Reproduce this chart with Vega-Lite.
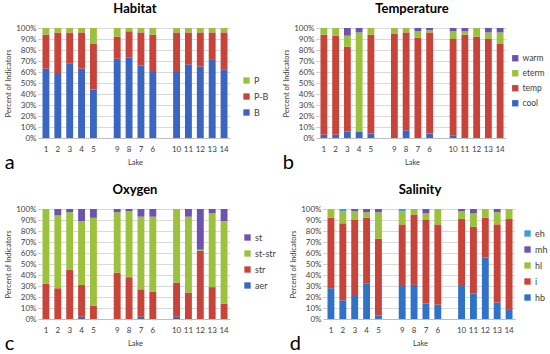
{
  "$schema": "https://vega.github.io/schema/vega-lite/v6.json",
  "background": "white",
  "padding": {"left": 4, "top": 3, "right": 0, "bottom": 0},
  "resolve": {"scale": {"color": "independent"}, "legend": {"color": "independent"}},
  "config": {
    "font": "Lato",
    "view": {"stroke": null},
    "axis": {"labelFont": "Lato", "labelFontSize": 8, "labelColor": "#404040", "titleFont": "Lato", "titleFontSize": 7.5, "titleFontWeight": "normal", "titleColor": "#404040", "gridColor": "#d9d9d9", "domainColor": "#bfbfbf", "tickColor": "#bfbfbf"},
    "axisX": {"labelAngle": 0, "ticks": false, "grid": false, "labelPadding": 7, "titlePadding": 5},
    "axisY": {"domain": false, "tickSize": 2, "labelPadding": 2, "titlePadding": 3},
    "legend": {"labelFont": "Lato", "labelFontSize": 9, "labelColor": "#404040", "symbolType": "square", "symbolSize": 40, "symbolStrokeWidth": 0, "rowPadding": 6, "labelOffset": 3, "orient": "none"},
    "title": {"font": "Lato", "fontSize": 13, "fontWeight": "bold", "color": "#000000"}
  },
  "datasets": {
    "series": [
      {"cat": "B", "r": 1}, {"cat": "P-B", "r": 2}, {"cat": "P", "r": 3},
      {"cat": "cool", "r": 1}, {"cat": "temp", "r": 2}, {"cat": "eterm", "r": 3}, {"cat": "warm", "r": 4},
      {"cat": "aer", "r": 1}, {"cat": "str", "r": 2}, {"cat": "st-str", "r": 3}, {"cat": "st", "r": 4},
      {"cat": "hb", "r": 1}, {"cat": "i", "r": 2}, {"cat": "hl", "r": 3}, {"cat": "mh", "r": 4}, {"cat": "eh", "r": 5}
    ],
    "habitat": [
      {"lake": "1", "cat": "B", "v": 63}, {"lake": "1", "cat": "P-B", "v": 31}, {"lake": "1", "cat": "P", "v": 6},
      {"lake": "2", "cat": "B", "v": 59}, {"lake": "2", "cat": "P-B", "v": 37}, {"lake": "2", "cat": "P", "v": 4},
      {"lake": "3", "cat": "B", "v": 68}, {"lake": "3", "cat": "P-B", "v": 28}, {"lake": "3", "cat": "P", "v": 4},
      {"lake": "4", "cat": "B", "v": 63}, {"lake": "4", "cat": "P-B", "v": 33}, {"lake": "4", "cat": "P", "v": 4},
      {"lake": "5", "cat": "B", "v": 44}, {"lake": "5", "cat": "P-B", "v": 42}, {"lake": "5", "cat": "P", "v": 14},
      {"lake": "9", "cat": "B", "v": 72}, {"lake": "9", "cat": "P-B", "v": 20}, {"lake": "9", "cat": "P", "v": 8},
      {"lake": "8", "cat": "B", "v": 73}, {"lake": "8", "cat": "P-B", "v": 24}, {"lake": "8", "cat": "P", "v": 3},
      {"lake": "7", "cat": "B", "v": 66}, {"lake": "7", "cat": "P-B", "v": 30}, {"lake": "7", "cat": "P", "v": 4},
      {"lake": "6", "cat": "B", "v": 60}, {"lake": "6", "cat": "P-B", "v": 34}, {"lake": "6", "cat": "P", "v": 6},
      {"lake": "10", "cat": "B", "v": 60}, {"lake": "10", "cat": "P-B", "v": 36}, {"lake": "10", "cat": "P", "v": 4},
      {"lake": "11", "cat": "B", "v": 67}, {"lake": "11", "cat": "P-B", "v": 29}, {"lake": "11", "cat": "P", "v": 4},
      {"lake": "12", "cat": "B", "v": 65}, {"lake": "12", "cat": "P-B", "v": 31}, {"lake": "12", "cat": "P", "v": 4},
      {"lake": "13", "cat": "B", "v": 71}, {"lake": "13", "cat": "P-B", "v": 25}, {"lake": "13", "cat": "P", "v": 4},
      {"lake": "14", "cat": "B", "v": 62}, {"lake": "14", "cat": "P-B", "v": 34}, {"lake": "14", "cat": "P", "v": 4}
    ],
    "temperature": [
      {"lake": "1", "cat": "cool", "v": 3}, {"lake": "1", "cat": "temp", "v": 91}, {"lake": "1", "cat": "eterm", "v": 6},
      {"lake": "2", "cat": "cool", "v": 3}, {"lake": "2", "cat": "temp", "v": 90}, {"lake": "2", "cat": "eterm", "v": 7},
      {"lake": "3", "cat": "cool", "v": 6}, {"lake": "3", "cat": "temp", "v": 77}, {"lake": "3", "cat": "eterm", "v": 10}, {"lake": "3", "cat": "warm", "v": 7},
      {"lake": "4", "cat": "cool", "v": 6}, {"lake": "4", "cat": "eterm", "v": 90}, {"lake": "4", "cat": "warm", "v": 4},
      {"lake": "5", "cat": "cool", "v": 4}, {"lake": "5", "cat": "temp", "v": 90}, {"lake": "5", "cat": "eterm", "v": 6},
      {"lake": "9", "cat": "temp", "v": 95}, {"lake": "9", "cat": "eterm", "v": 5},
      {"lake": "8", "cat": "cool", "v": 7}, {"lake": "8", "cat": "temp", "v": 89}, {"lake": "8", "cat": "eterm", "v": 4},
      {"lake": "7", "cat": "temp", "v": 91}, {"lake": "7", "cat": "eterm", "v": 6}, {"lake": "7", "cat": "warm", "v": 3},
      {"lake": "6", "cat": "cool", "v": 4}, {"lake": "6", "cat": "temp", "v": 92}, {"lake": "6", "cat": "eterm", "v": 2}, {"lake": "6", "cat": "warm", "v": 2},
      {"lake": "10", "cat": "cool", "v": 2}, {"lake": "10", "cat": "temp", "v": 88}, {"lake": "10", "cat": "eterm", "v": 7}, {"lake": "10", "cat": "warm", "v": 3},
      {"lake": "11", "cat": "temp", "v": 94}, {"lake": "11", "cat": "eterm", "v": 3}, {"lake": "11", "cat": "warm", "v": 3},
      {"lake": "12", "cat": "temp", "v": 92}, {"lake": "12", "cat": "eterm", "v": 8},
      {"lake": "13", "cat": "temp", "v": 90}, {"lake": "13", "cat": "eterm", "v": 6}, {"lake": "13", "cat": "warm", "v": 4},
      {"lake": "14", "cat": "temp", "v": 86}, {"lake": "14", "cat": "eterm", "v": 10}, {"lake": "14", "cat": "warm", "v": 4}
    ],
    "oxygen": [
      {"lake": "1", "cat": "str", "v": 32}, {"lake": "1", "cat": "st-str", "v": 68},
      {"lake": "2", "cat": "str", "v": 28}, {"lake": "2", "cat": "st-str", "v": 66}, {"lake": "2", "cat": "st", "v": 6},
      {"lake": "3", "cat": "str", "v": 45}, {"lake": "3", "cat": "st-str", "v": 52}, {"lake": "3", "cat": "st", "v": 3},
      {"lake": "4", "cat": "aer", "v": 2}, {"lake": "4", "cat": "str", "v": 29}, {"lake": "4", "cat": "st-str", "v": 58}, {"lake": "4", "cat": "st", "v": 11},
      {"lake": "5", "cat": "str", "v": 12}, {"lake": "5", "cat": "st-str", "v": 80}, {"lake": "5", "cat": "st", "v": 8},
      {"lake": "9", "cat": "str", "v": 42}, {"lake": "9", "cat": "st-str", "v": 55}, {"lake": "9", "cat": "st", "v": 3},
      {"lake": "8", "cat": "str", "v": 38}, {"lake": "8", "cat": "st-str", "v": 60}, {"lake": "8", "cat": "st", "v": 2},
      {"lake": "7", "cat": "aer", "v": 2}, {"lake": "7", "cat": "str", "v": 25}, {"lake": "7", "cat": "st-str", "v": 66}, {"lake": "7", "cat": "st", "v": 7},
      {"lake": "6", "cat": "str", "v": 25}, {"lake": "6", "cat": "st-str", "v": 68}, {"lake": "6", "cat": "st", "v": 7},
      {"lake": "10", "cat": "aer", "v": 2}, {"lake": "10", "cat": "str", "v": 31}, {"lake": "10", "cat": "st-str", "v": 67},
      {"lake": "11", "cat": "str", "v": 24}, {"lake": "11", "cat": "st-str", "v": 69}, {"lake": "11", "cat": "st", "v": 7},
      {"lake": "12", "cat": "str", "v": 62}, {"lake": "12", "cat": "st-str", "v": 1}, {"lake": "12", "cat": "st", "v": 37},
      {"lake": "13", "cat": "str", "v": 29}, {"lake": "13", "cat": "st-str", "v": 67}, {"lake": "13", "cat": "st", "v": 4},
      {"lake": "14", "cat": "str", "v": 14}, {"lake": "14", "cat": "st-str", "v": 75}, {"lake": "14", "cat": "st", "v": 11}
    ],
    "salinity": [
      {"lake": "1", "cat": "hb", "v": 28}, {"lake": "1", "cat": "i", "v": 64}, {"lake": "1", "cat": "hl", "v": 8},
      {"lake": "2", "cat": "hb", "v": 17}, {"lake": "2", "cat": "i", "v": 70}, {"lake": "2", "cat": "hl", "v": 11}, {"lake": "2", "cat": "eh", "v": 2},
      {"lake": "3", "cat": "hb", "v": 21}, {"lake": "3", "cat": "i", "v": 69}, {"lake": "3", "cat": "hl", "v": 8}, {"lake": "3", "cat": "mh", "v": 2},
      {"lake": "4", "cat": "hb", "v": 32}, {"lake": "4", "cat": "i", "v": 60}, {"lake": "4", "cat": "hl", "v": 5}, {"lake": "4", "cat": "mh", "v": 3},
      {"lake": "5", "cat": "hb", "v": 3}, {"lake": "5", "cat": "i", "v": 70}, {"lake": "5", "cat": "hl", "v": 24}, {"lake": "5", "cat": "mh", "v": 3},
      {"lake": "9", "cat": "hb", "v": 30}, {"lake": "9", "cat": "i", "v": 56}, {"lake": "9", "cat": "hl", "v": 12}, {"lake": "9", "cat": "eh", "v": 2},
      {"lake": "8", "cat": "hb", "v": 31}, {"lake": "8", "cat": "i", "v": 64}, {"lake": "8", "cat": "hl", "v": 5},
      {"lake": "7", "cat": "hb", "v": 14}, {"lake": "7", "cat": "i", "v": 76}, {"lake": "7", "cat": "hl", "v": 6}, {"lake": "7", "cat": "mh", "v": 4},
      {"lake": "6", "cat": "hb", "v": 13}, {"lake": "6", "cat": "i", "v": 73}, {"lake": "6", "cat": "hl", "v": 14},
      {"lake": "10", "cat": "hb", "v": 30}, {"lake": "10", "cat": "i", "v": 61}, {"lake": "10", "cat": "hl", "v": 7}, {"lake": "10", "cat": "mh", "v": 2},
      {"lake": "11", "cat": "hb", "v": 23}, {"lake": "11", "cat": "i", "v": 61}, {"lake": "11", "cat": "hl", "v": 12}, {"lake": "11", "cat": "mh", "v": 4},
      {"lake": "12", "cat": "hb", "v": 56}, {"lake": "12", "cat": "i", "v": 36}, {"lake": "12", "cat": "hl", "v": 8},
      {"lake": "13", "cat": "hb", "v": 15}, {"lake": "13", "cat": "i", "v": 71}, {"lake": "13", "cat": "hl", "v": 11}, {"lake": "13", "cat": "mh", "v": 3},
      {"lake": "14", "cat": "hb", "v": 9}, {"lake": "14", "cat": "i", "v": 82}, {"lake": "14", "cat": "hl", "v": 9}
    ]
  },
  "vconcat": [
    {
      "resolve": {"scale": {"color": "independent"}, "legend": {"color": "independent"}},
      "hconcat": [
        {
          "title": {"text": "a", "orient": "bottom", "anchor": "start", "fontSize": 20, "fontWeight": "normal", "offset": -13, "frame": "bounds"},
          "vconcat": [
            {
              "title": {"text": "Habitat", "offset": 8},
              "width": 190, "height": 110,
              "data": {"name": "habitat"},
              "transform": [{"lookup": "cat", "from": {"data": {"name": "series"}, "key": "cat", "fields": ["r"]}}],
              "mark": {"type": "bar"},
              "encoding": {
                "x": {"field": "lake", "type": "nominal", "scale": {"domain": ["1","2","3","4","5"," ","9","8","7","6","  ","10","11","12","13","14"], "paddingInner": 0.42, "paddingOuter": 0.21}, "axis": {"title": "Lake"}},
                "y": {"field": "v", "type": "quantitative", "stack": "normalize", "scale": {"domain": [0, 1]}, "axis": {"title": "Percent of Indicators", "values": [0,0.1,0.2,0.3,0.4,0.5,0.6,0.7,0.8,0.9,1], "format": ".0%"}},
                "order": {"field": "r", "type": "quantitative", "sort": "ascending"},
                "color": {"field": "cat", "type": "nominal", "scale": {"domain": ["P","P-B","B"], "range": ["#9cc13c","#c8443b","#3a66c2"]}, "legend": {"title": null, "values": ["P","P-B","B"], "legendX": 202, "legendY": 48}}
              }
            }
          ]
        },
        {
          "title": {"text": "b", "orient": "bottom", "anchor": "start", "fontSize": 20, "fontWeight": "normal", "offset": -13, "frame": "bounds"},
          "vconcat": [
            {
              "title": {"text": "Temperature", "offset": 8},
              "width": 188, "height": 110,
              "data": {"name": "temperature"},
              "transform": [{"lookup": "cat", "from": {"data": {"name": "series"}, "key": "cat", "fields": ["r"]}}],
              "mark": {"type": "bar"},
              "encoding": {
                "x": {"field": "lake", "type": "nominal", "scale": {"domain": ["1","2","3","4","5"," ","9","8","7","6","  ","10","11","12","13","14"], "paddingInner": 0.42, "paddingOuter": 0.21}, "axis": {"title": "Lake"}},
                "y": {"field": "v", "type": "quantitative", "stack": "normalize", "scale": {"domain": [0, 1]}, "axis": {"title": "Percent of Indicators", "values": [0,0.1,0.2,0.3,0.4,0.5,0.6,0.7,0.8,0.9,1], "format": ".0%"}},
                "order": {"field": "r", "type": "quantitative", "sort": "ascending"},
                "color": {"field": "cat", "type": "nominal", "scale": {"domain": ["warm","eterm","temp","cool"], "range": ["#6d52b0","#9cc13c","#c8443b","#3a66c2"]}, "legend": {"title": null, "values": ["warm","eterm","temp","cool"], "legendX": 193, "legendY": 26, "labelFontSize": 8.5}}
              }
            }
          ]
        }
      ],
      "spacing": 13
    },
    {
      "resolve": {"scale": {"color": "independent"}, "legend": {"color": "independent"}},
      "hconcat": [
        {
          "title": {"text": "c", "orient": "bottom", "anchor": "start", "fontSize": 20, "fontWeight": "normal", "offset": -13, "frame": "bounds"},
          "vconcat": [
            {
              "title": {"text": "Oxygen", "offset": 8},
              "width": 190, "height": 110,
              "data": {"name": "oxygen"},
              "transform": [{"lookup": "cat", "from": {"data": {"name": "series"}, "key": "cat", "fields": ["r"]}}],
              "mark": {"type": "bar"},
              "encoding": {
                "x": {"field": "lake", "type": "nominal", "scale": {"domain": ["1","2","3","4","5"," ","9","8","7","6","  ","10","11","12","13","14"], "paddingInner": 0.42, "paddingOuter": 0.21}, "axis": {"title": "Lake"}},
                "y": {"field": "v", "type": "quantitative", "stack": "normalize", "scale": {"domain": [0, 1]}, "axis": {"title": "Percent of Indicators", "values": [0,0.1,0.2,0.3,0.4,0.5,0.6,0.7,0.8,0.9,1], "format": ".0%"}},
                "order": {"field": "r", "type": "quantitative", "sort": "ascending"},
                "color": {"field": "cat", "type": "nominal", "scale": {"domain": ["st","st-str","str","aer"], "range": ["#6d52b0","#9cc13c","#c8443b","#3a66c2"]}, "legend": {"title": null, "values": ["st","st-str","str","aer"], "legendX": 203, "legendY": 24}}
              }
            }
          ]
        },
        {
          "title": {"text": "d", "orient": "bottom", "anchor": "start", "fontSize": 20, "fontWeight": "normal", "offset": -13, "frame": "bounds"},
          "vconcat": [
            {
              "title": {"text": "Salinity", "offset": 8},
              "width": 190, "height": 110,
              "data": {"name": "salinity"},
              "transform": [{"lookup": "cat", "from": {"data": {"name": "series"}, "key": "cat", "fields": ["r"]}}],
              "mark": {"type": "bar"},
              "encoding": {
                "x": {"field": "lake", "type": "nominal", "scale": {"domain": ["1","2","3","4","5"," ","9","8","7","6","  ","10","11","12","13","14"], "paddingInner": 0.42, "paddingOuter": 0.21}, "axis": {"title": "Lake"}},
                "y": {"field": "v", "type": "quantitative", "stack": "normalize", "scale": {"domain": [0, 1]}, "axis": {"title": "Percent of Indicators", "values": [0,0.1,0.2,0.3,0.4,0.5,0.6,0.7,0.8,0.9,1], "format": ".0%"}},
                "order": {"field": "r", "type": "quantitative", "sort": "ascending"},
                "color": {"field": "cat", "type": "nominal", "scale": {"domain": ["eh","mh","hl","i","hb"], "range": ["#3b9fd4","#6d52b0","#9cc13c","#c8443b","#2f72c8"]}, "legend": {"title": null, "values": ["eh","mh","hl","i","hb"], "legendX": 198, "legendY": 20}}
              }
            }
          ]
        }
      ],
      "spacing": 13
    }
  ],
  "spacing": 11
}
